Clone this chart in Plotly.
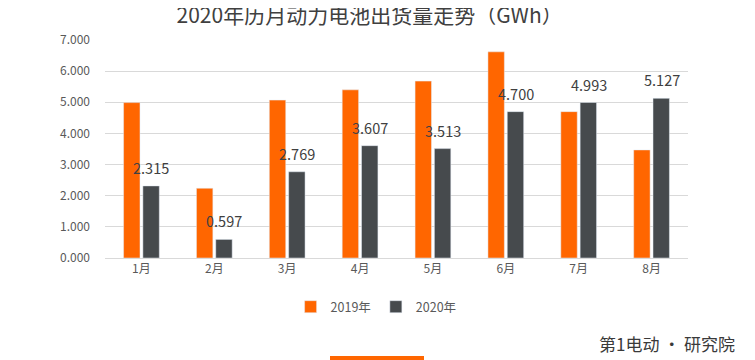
import plotly.graph_objects as go

months = ["1月", "2月", "3月", "4月", "5月", "6月", "7月", "8月"]
v2019 = [4.99, 2.24, 5.07, 5.40, 5.68, 6.62, 4.70, 3.47]
v2020 = [2.315, 0.597, 2.769, 3.607, 3.513, 4.700, 4.993, 5.127]
ticks = [0, 1, 2, 3, 4, 5, 6, 7]

FONT = "Noto Sans CJK SC, Microsoft YaHei, sans-serif"
ORANGE = "#FF6600"
DARK = "#464A4D"

# page body has an 8px margin; figure coordinates are offset accordingly
L, T, PW, PH = 97, 32, 583, 218

fig = go.Figure()
fig.add_trace(go.Bar(x=months, y=v2019, name="2019年", marker_color=ORANGE))
fig.add_trace(go.Bar(x=months, y=v2020, name="2020年", marker_color=DARK))

for m, v in zip(months, v2020):
    fig.add_annotation(x=m, y=v, text=f"{v:.3f}", showarrow=False,
                       xref="x", yref="y", xanchor="center", yanchor="bottom",
                       xshift=10, yshift=6,
                       font=dict(family=FONT, size=14.5, color="#404040"))

fig.add_annotation(text="第1电动 · 研究院", xref="paper", yref="paper",
                   x=(729 - L) / PW, y=(T + PH - 335) / PH, xanchor="right", yanchor="middle",
                   showarrow=False, font=dict(family=FONT, size=17, color="#3a3a3a"))

fig.add_shape(type="rect", xref="paper", yref="paper",
              x0=(322 - L) / PW, x1=(416 - L) / PW,
              y0=(T + PH - 348) / PH, y1=(T + PH - 356) / PH,
              fillcolor=ORANGE, line_width=0)

fig.update_layout(
    width=755, height=360,
    margin=dict(l=L, r=755 - L - PW, t=T, b=360 - T - PH),
    paper_bgcolor="white", plot_bgcolor="white",
    barmode="group", bargap=0.47, bargroupgap=0.15,
    title=dict(text="2020年历月动力电池出货量走势（GWh）", x=0.479, xanchor="center",
               y=0.978, yanchor="middle",
               font=dict(family=FONT, size=21, color="#404040")),
    font=dict(family=FONT, color="#595959", size=12),
    showlegend=True,
    legend=dict(orientation="h", x=0.465, xanchor="center", y=-0.225, yanchor="middle",
                font=dict(family=FONT, size=12.5, color="#595959"),
                itemwidth=30, tracegroupgap=0, bgcolor="rgba(0,0,0,0)"),
    xaxis=dict(showgrid=False, showline=True, linecolor="#D9D9D9", linewidth=1,
               ticks="", tickfont=dict(size=12, color="#595959")),
    yaxis=dict(range=[0, 7], tickvals=ticks, tickformat=".3f",
               showgrid=True, gridcolor="#D9D9D9", gridwidth=1, zeroline=False,
               ticks="", ticklabelstandoff=14,
               tickfont=dict(size=12, color="#595959")),
)

fig.write_html("out.html")
